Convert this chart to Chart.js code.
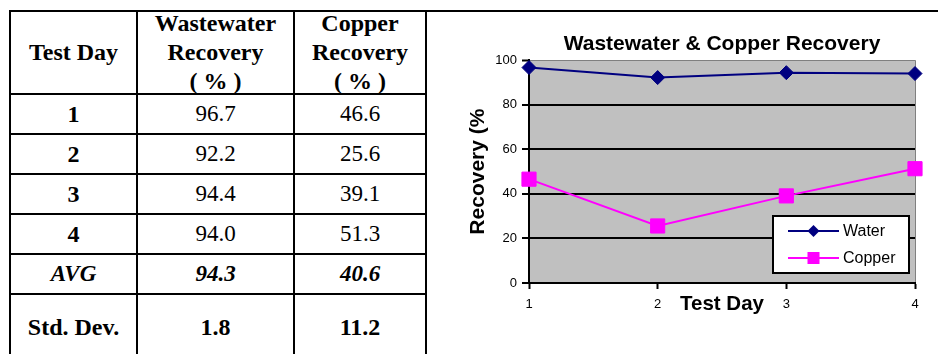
<!DOCTYPE html>
<html>
<head>
<meta charset="utf-8">
<script src="https://cdn.jsdelivr.net/npm/chart.js@4.4.1/dist/chart.umd.min.js"></script>
<style>
html,body{margin:0;padding:0;background:#fff;width:938px;height:354px;overflow:hidden;}
#grid{position:absolute;left:9px;top:10px;display:grid;background:#000;padding:2px 0 0 2px;gap:2px;
  grid-template-columns:125px 155px 130px 520px;
  grid-template-rows:81px 38px 38px 38px 38px 38px 65px;}
.c{background:#fff;display:flex;align-items:center;justify-content:center;text-align:center;
  font-family:"Liberation Serif","Times New Roman","DejaVu Serif",serif;font-size:23px;font-weight:normal;color:#000;line-height:1.2;}
.h{font-weight:bold;font-size:24px;}
.b{font-weight:bold;font-size:24px;}
.bi{font-weight:bold;font-style:italic;}
#chartcell{grid-column:4;grid-row:1 / 8;position:relative;background:#fff;}
#chartcell canvas{position:absolute;left:0;top:0;}
</style>
</head>
<body>
<div id="grid"></div>
<script>
// ---- data ----
const testDays = ['1', '2', '3', '4'];
const waterRecovery = [96.7, 92.2, 94.4, 94.0];
const copperRecovery = [46.6, 25.6, 39.1, 51.3];
const headerLabels = ['Test Day', 'Wastewater<br>Recovery<br>( % )', 'Copper<br>Recovery<br>( % )'];
const avgRow = ['AVG', '94.3', '40.6'];
const stdRow = ['Std. Dev.', '1.8', '11.2'];
const seriesNames = ['Water', 'Copper'];
const yTickValues = [0, 20, 40, 60, 80, 100];
const chartTitle = 'Wastewater & Copper Recovery';
const xTitle = 'Test Day';
const yTitle = 'Recovery (%';

// ---- table ----
const grid = document.getElementById('grid');
function cell(html, cls) {
  const d = document.createElement('div');
  d.className = 'c ' + (cls || '');
  d.innerHTML = html;
  grid.appendChild(d);
  return d;
}
const chartCell = document.createElement('div');
chartCell.id = 'chartcell';
grid.appendChild(chartCell);
headerLabels.forEach(h => cell(h, 'h'));
testDays.forEach((d, i) => {
  cell(d, 'b');
  cell(waterRecovery[i].toFixed(1));
  cell(copperRecovery[i].toFixed(1));
});
avgRow.forEach(v => cell(v, 'bi'));
stdRow.forEach(v => cell(v, 'b'));

// ---- chart ----
const canvas = document.createElement('canvas');
canvas.width = 511; canvas.height = 342;
canvas.style.width = '511px'; canvas.style.height = '342px';
chartCell.appendChild(canvas);

Chart.defaults.font.family = '"Liberation Sans", Arial, sans-serif';
Chart.defaults.color = '#000';

const bgPlugin = {
  id: 'plotBg',
  beforeDraw(chart) {
    const a = chart.chartArea, ctx = chart.ctx;
    ctx.save();
    ctx.fillStyle = '#C0C0C0';
    ctx.fillRect(a.left, a.top, a.right - a.left, a.bottom - a.top);
    ctx.restore();
  }
};

const legendPlugin = {
  id: 'boxLegend',
  afterDatasetsDraw(chart) {
    const ctx = chart.ctx, a = chart.chartArea;
    const w = 136, h = 57;
    const x = a.right - 6 - w, y = a.bottom - 10 - h;
    ctx.save();
    ctx.fillStyle = '#fff';
    ctx.fillRect(x, y, w, h);
    ctx.strokeStyle = '#000';
    ctx.lineWidth = 2;
    ctx.strokeRect(x, y, w, h);
    chart.data.datasets.forEach((ds, i) => {
      const cy = y + 15 + i * 27;
      ctx.strokeStyle = ds.borderColor;
      ctx.lineWidth = 2;
      ctx.beginPath();
      ctx.moveTo(x + 15, cy);
      ctx.lineTo(x + 66, cy);
      ctx.stroke();
      ctx.fillStyle = ds.pointBackgroundColor;
      const mx = x + 40.5;
      if (ds.pointStyle === 'rectRot') {
        const r = 6;
        ctx.beginPath();
        ctx.moveTo(mx - r, cy); ctx.lineTo(mx, cy - r); ctx.lineTo(mx + r, cy); ctx.lineTo(mx, cy + r);
        ctx.closePath(); ctx.fill();
      } else {
        const s = 6;
        ctx.fillRect(mx - s, cy - s, 2 * s, 2 * s);
      }
      ctx.fillStyle = '#000';
      ctx.font = '16px "Liberation Sans", Arial, sans-serif';
      ctx.textAlign = 'left';
      ctx.textBaseline = 'middle';
      ctx.fillText(ds.label, x + 70, cy + 1);
    });
    ctx.restore();
  }
};

new Chart(canvas.getContext('2d'), {
  type: 'line',
  data: {
    labels: testDays,
    datasets: [
      {
        label: seriesNames[0], data: waterRecovery,
        borderColor: '#000080', backgroundColor: '#000080', borderWidth: 2,
        pointStyle: 'rectRot', pointRadius: 7, pointBorderWidth: 1,
        pointBackgroundColor: '#000080', pointBorderColor: '#000080',
        tension: 0, clip: false
      },
      {
        label: seriesNames[1], data: copperRecovery,
        borderColor: '#FF00FF', backgroundColor: '#FF00FF', borderWidth: 2,
        pointStyle: 'rect', pointRadius: 10, pointBorderWidth: 1,
        pointBackgroundColor: '#FF00FF', pointBorderColor: '#FF00FF',
        tension: 0, clip: false
      }
    ]
  },
  options: {
    responsive: false,
    animation: false,
    events: [],
    layout: { padding: { left: 39, right: 23, top: 0, bottom: 37 } },
    plugins: {
      legend: { display: false },
      tooltip: { enabled: false },
      title: {
        display: true, text: chartTitle, fullSize: false, color: '#000',
        font: { size: 21, weight: 'bold' }, padding: { top: 20, bottom: 3 }
      }
    },
    scales: {
      x: {
        offset: false,
        grid: {
          drawOnChartArea: true,
          color: c => (c.index === testDays.length - 1 ? '#808080' : 'rgba(0,0,0,0)'),
          lineWidth: 1, tickLength: 6, tickColor: '#000', tickWidth: 2
        },
        border: { color: '#000', width: 2 },
        ticks: { color: '#000', font: { size: 13 }, padding: 8, maxRotation: 0 },
        title: { display: true, text: xTitle, color: '#000', font: { size: 20.5, weight: 'bold' }, padding: 0 },
        afterFit: s => { s.height = 34; }
      },
      y: {
        min: 0, max: 100,
        afterBuildTicks: s => { s.ticks = yTickValues.map(v => ({ value: v })); },
        grid: {
          color: c => (c.tick && c.tick.value === 100 ? '#808080' : '#000'),
          lineWidth: c => (c.tick && c.tick.value === 100 ? 1 : 2),
          tickLength: 7, tickColor: '#000', tickWidth: 2
        },
        border: { color: '#000', width: 2 },
        ticks: { color: '#000', font: { size: 13 }, padding: 5 },
        title: { display: true, text: yTitle, color: '#000', font: { size: 21, weight: 'bold' }, padding: 0 },
        afterFit: s => { s.width = 63; }
      }
    }
  },
  plugins: [bgPlugin, legendPlugin]
});
</script>
</body>
</html>
